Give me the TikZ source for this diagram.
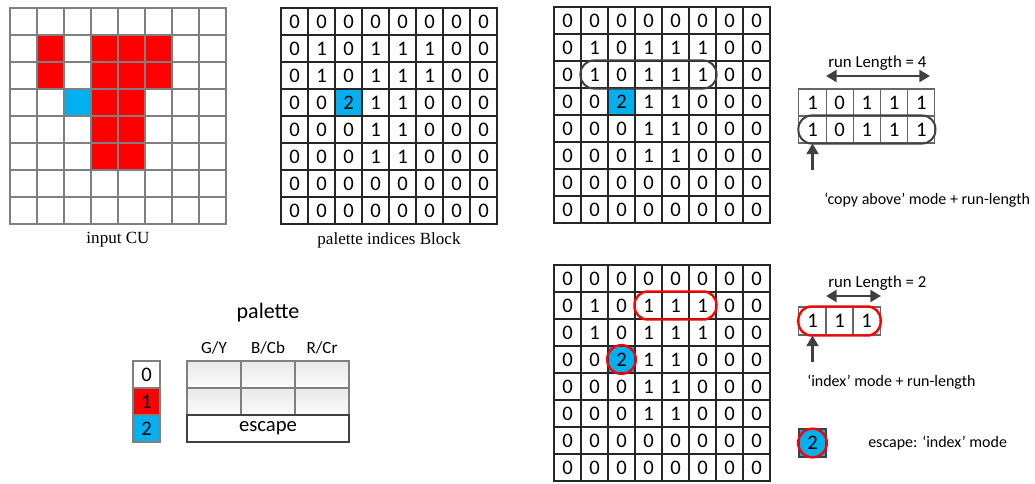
\documentclass[tikz,border=0pt]{standalone}
\usepackage{fontspec}
\setmainfont{Liberation Serif}
\newfontfamily\calibri{Carlito}
\usetikzlibrary{arrows.meta,fit}

\definecolor{palred}{HTML}{FF0000}
\definecolor{palblue}{HTML}{00B0F0}
\definecolor{darkline}{HTML}{404040}
\definecolor{cugray}{HTML}{7F7F7F}
\colorlet{cu0}{white}\colorlet{cu1}{palred}\colorlet{cu2}{palblue}
\colorlet{ib0}{white}\colorlet{ib1}{white}\colorlet{ib2}{palblue}

\newcommand\idxrows{{0,0,0,0,0,0,0,0},{0,1,0,1,1,1,0,0},{0,1,0,1,1,1,0,0},{0,0,2,1,1,0,0,0},{0,0,0,1,1,0,0,0},{0,0,0,1,1,0,0,0},{0,0,0,0,0,0,0,0},{0,0,0,0,0,0,0,0}}

\tikzset{
  cucell/.style={draw=cugray, line width=0.8pt, minimum size=20.25pt, inner sep=0pt},
  idxcell/.style={draw=black!85, line width=0.8pt, minimum size=20.25pt, inner sep=0pt, font=\calibri\fontsize{15.5}{16}\selectfont},
  runcell/.style={idxcell, draw=darkline!80, minimum width=20.4pt},
  runbox/.style={draw=darkline, line width=1.5pt, rounded corners=10pt, inner sep=0pt},
  hitbox/.style={runbox, draw=palred, line width=1.8pt},
  ring/.style={circle, draw=palred, line width=1.8pt, minimum size=21.5pt, inner sep=0pt},
  runarrow/.style={draw=darkline, line width=1.7pt, {Triangle[length=8pt,width=9pt]}-{Triangle[length=8pt,width=9pt]}},
  modearrow/.style={draw=darkline, line width=1.7pt, -{Triangle[length=8pt,width=9pt]}},
  note/.style={font=\calibri\fontsize{12}{13}\selectfont, inner sep=0pt},
  lenlabel/.style={font=\calibri\fontsize{12.6}{13}\selectfont, inner sep=0pt},
  caption/.style={font=\fontsize{12.8}{13}\selectfont, inner sep=0pt},
  hdr/.style={font=\calibri\fontsize{12.8}{13}\selectfont, inner sep=0pt},
  palcell/.style={draw=cugray, line width=1.2pt, top color=black!9, bottom color=black!1, minimum width=40.5pt, minimum height=20.25pt, inner sep=0pt},
}

\begin{document}
\begin{tikzpicture}[x=0.75pt,y=-0.75pt]
\useasboundingbox (0,0) rectangle (1035,483);
% input CU
\foreach \row [count=\r from 0] in \idxrows {
  \foreach \v [count=\c from 0] in \row {
    \node[cucell, fill=cu\v] (cu-\r-\c) at ({23.5+27*\c},{21.5+27*\r}){};
  }
}
\node[caption] (cu-cap) at (118,240) {input CU};
% index blocks
\foreach \gx/\gy/\gn in {281/8/pib,554/7/cab,554/265/idx} {
  \foreach \row [count=\r from 0] in \idxrows {
    \foreach \v [count=\c from 0] in \row {
      \node[idxcell, fill=ib\v] (\gn-\r-\c) at ({\gx+13.5+27*\c},{\gy+13.5+27*\r}){\v};
    }
  }
}
\node[caption] (pib-cap) at (389,240) {palette indices Block};
% copy above
\node[runbox, fit=(cab-2-1)(cab-2-5)] (cab-run) {};
\foreach \v [count=\c from 0] in {1,0,1,1,1} {
  \node[runcell] (ca-0-\c) at ({812.5+27.2*\c},102.5){\v};
  \node[runcell] (ca-1-\c) at ({812.5+27.2*\c},129.5){\v};
}
\node[runbox, fit=(ca-1-0)(ca-1-4)] (ca-run) {};
\coordinate (ca-len-l) at (826,76);
\coordinate (ca-len-r) at (930,76);
\draw[runarrow] (ca-len-l) -- (ca-len-r);
\node[lenlabel, anchor=west] (ca-len) at (828,63) {run Length = 4};
\coordinate (ca-foot) at (812.5,170);
\draw[modearrow] (ca-foot) -- (ca-1-0.south);
\node[note, anchor=west] (ca-txt) at (824,200) {‘copy above’ mode + run-length};
% index mode
\node[hitbox, fit=(idx-1-3)(idx-1-5)] (idx-run) {};
\node[ring] (idx-esc) at (idx-3-2) {};
\foreach \c in {0,1,2}
  \node[runcell, minimum height=21pt] (im-\c) at ({812.5+27*\c},321){1};
\node[hitbox, fit=(im-0)(im-2)] (im-run) {};
\coordinate (im-len-l) at (826,296);
\coordinate (im-len-r) at (881,296);
\draw[runarrow] (im-len-l) -- (im-len-r);
\node[lenlabel, anchor=west] (im-len) at (828,283) {run Length = 2};
\coordinate (im-foot) at (812.5,362);
\draw[modearrow] (im-foot) -- (im-0.south);
\node[note, anchor=west] (im-txt) at (807,382) {‘index’ mode + run-length};
% escape
\node[idxcell, fill=palblue, draw=darkline, minimum height=21pt] (esc-key) at (812.5,443){2};
\node[ring] (esc-ring) at (esc-key) {};
\node[note, anchor=west] (esc-txt) at (868,443) {escape: ‘index’ mode};
% palette
\node[font=\calibri\fontsize{16.5}{17}\selectfont] (pal-title) at (268,313) {palette};
\node[hdr] (pal-hg) at (214,348) {G/Y};
\node[hdr] (pal-hb) at (268,348) {B/Cb};
\node[hdr] (pal-hr) at (322,348) {R/Cr};
\foreach \r in {0,1}
  \foreach \c in {0,1,2}
    \node[palcell] (pal-\r-\c) at ({214+54*\c},{374.5+27*\r}){};
\node[idxcell, draw=darkline, fill=white, minimum width=121.5pt] (pal-esc) at (268,428.5) {escape};
\foreach \v [count=\r from 0] in {0,1,2}
  \node[idxcell, fill=cu\v, draw=cugray] (key-\v) at (146.5,{374.5+27*\r}){\v};
\end{tikzpicture}
\end{document}
